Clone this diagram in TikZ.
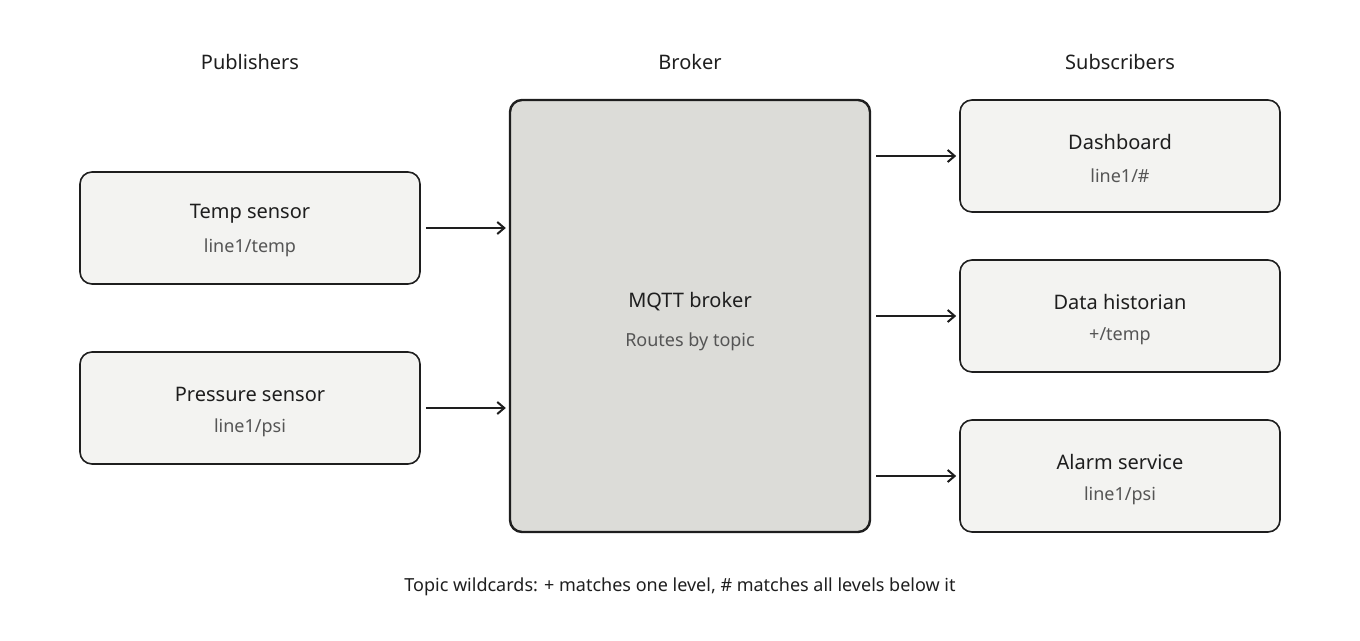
\documentclass[tikz,border=0pt]{standalone}
\usepackage{fontspec}
\setmainfont{Noto Sans}
\usetikzlibrary{arrows.meta}
\definecolor{ink}{HTML}{1E1E1E}
\definecolor{sub}{HTML}{555555}
\definecolor{boxfill}{HTML}{F3F3F1}
\definecolor{brokerfill}{HTML}{DCDCD8}
\begin{document}
\begin{tikzpicture}[x=1pt,y=-1pt,
  box/.style={draw=ink,line width=1.6pt,fill=boxfill,rounded corners=12pt,minimum width=340pt,minimum height=112pt,inner sep=0pt},
  sbox/.style={box,minimum width=320pt},
  ttl/.style={font=\fontsize{20}{24}\selectfont,text=ink},
  lbl/.style={font=\fontsize{20}{24}\selectfont,text=ink,align=center},
  sl/.style={font=\fontsize{18}{22}\selectfont,text=sub},
  arr/.style={draw=ink,line width=2pt,-{Straight Barb[length=7pt,width=12pt]}}]
\useasboundingbox (0,0) rectangle (1360,640);
\node[ttl] (tp) at (250,62) {Publishers};
\node[ttl] (tb) at (690,62) {Broker};
\node[ttl] (ts) at (1120,62) {Subscribers};
\node[box] (temp) at (250,228) {};
\node[lbl] (tempa) at (250,214) {Temp sensor};
\node[sl] (tempb) at (250,248) {line1/temp};
\node[box] (pres) at (250,408) {};
\node[lbl] (presa) at (250,394) {Pressure sensor};
\node[sl] (presb) at (250,428) {line1/psi};
\node[draw=ink,line width=2.4pt,fill=brokerfill,rounded corners=12pt,minimum width=360pt,minimum height=432pt,inner sep=0pt] (brk) at (690,316) {};
\node[lbl] (brka) at (690,302) {MQTT broker};
\node[sl] (brkb) at (690,342) {Routes by topic};
\node[sbox] (dash) at (1120,156) {};
\node[lbl] (dasha) at (1120,142) {Dashboard};
\node[sl] (dashb) at (1120,176) {line1/\#};
\node[sbox] (hist) at (1120,316) {};
\node[lbl] (hista) at (1120,302) {Data historian};
\node[sl] (histb) at (1120,336) {+/temp};
\node[sbox] (alarm) at (1120,476) {};
\node[lbl] (alarma) at (1120,462) {Alarm service};
\node[sl] (alarmb) at (1120,496) {line1/psi};
\draw[arr] ([xshift=5pt]temp.east) -- ([xshift=-3pt]brk.west |- temp.east);
\draw[arr] ([xshift=5pt]pres.east) -- ([xshift=-3pt]brk.west |- pres.east);
\draw[arr] ([xshift=5pt]brk.east |- dash.west) -- ([xshift=-3pt]dash.west);
\draw[arr] ([xshift=5pt]brk.east |- hist.west) -- ([xshift=-3pt]hist.west);
\draw[arr] ([xshift=5pt]brk.east |- alarm.west) -- ([xshift=-3pt]alarm.west);
\node[sl,text=ink] (foot) at (680,587) {Topic wildcards: + matches one level, \# matches all levels below it};
\end{tikzpicture}
\end{document}
